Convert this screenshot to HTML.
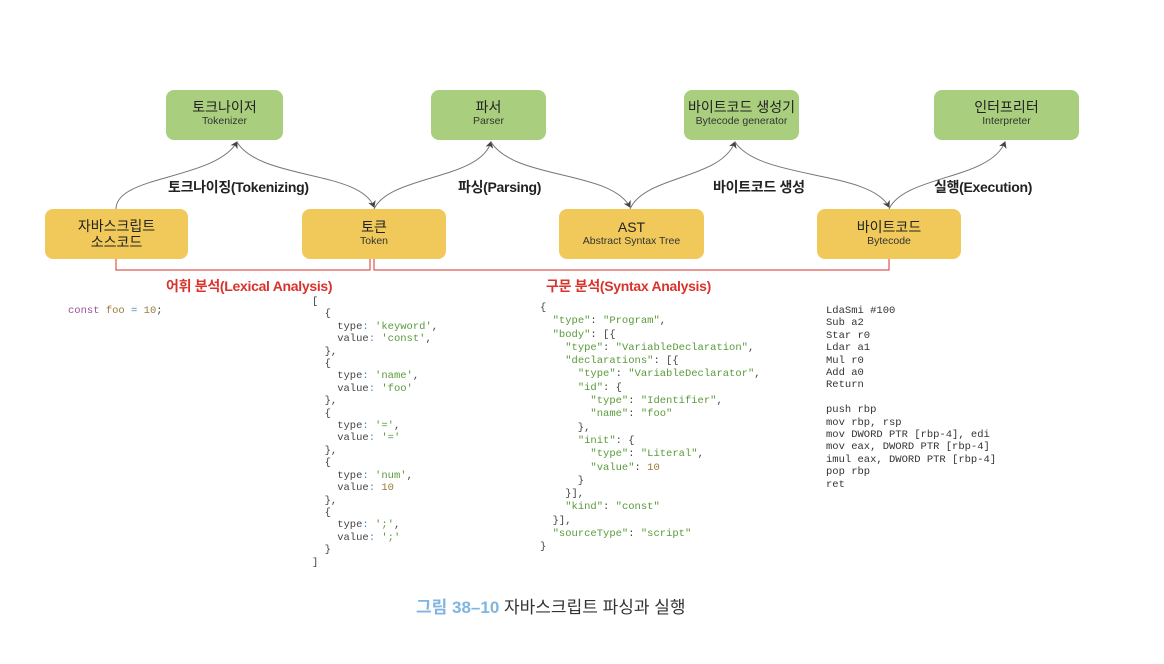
<!DOCTYPE html>
<html><head><meta charset="utf-8"><style>
body{margin:0;width:1164px;height:664px;background:#fff;position:relative;overflow:hidden;font-family:"Liberation Sans","Noto Sans CJK KR",sans-serif}
.b{position:absolute;border-radius:8px;text-align:center;color:#222;box-sizing:border-box}
.g{background:#a9cf7e}.y{background:#f0c95a}
.b .t{font-size:14px;line-height:16px}.b .s{font-size:10.5px;line-height:13px;color:#333}
.lbl{position:absolute;font-size:14px;font-weight:bold;color:#222;white-space:nowrap;letter-spacing:-0.3px}
.red{color:#d9332b;font-weight:bold}
pre{position:absolute;margin:0;font-family:"Liberation Mono",monospace;font-size:10.5px;line-height:13.2px;color:#444}
.s1{color:#5a9a3a}.k{color:#9a4f9a}.n{color:#9a7a3a}.p{color:#4a8ac0}
</style></head><body>
<svg width="1164" height="664" style="position:absolute;left:0;top:0">
<defs><marker id="a" markerWidth="10" markerHeight="10" refX="6" refY="5" orient="auto" markerUnits="userSpaceOnUse"><path d="M0,1 L7,5 L0,9 L2,5Z" fill="#444"/></marker></defs>
<g fill="none" stroke="#777" stroke-width="1">
<path d="M116,209 C116,175 215,180 237,142" marker-end="url(#a)"/>
<path d="M237,142 C260,180 360,170 374,207" marker-end="url(#a)"/>
<path d="M374,209 C390,175 480,180 491,142" marker-end="url(#a)"/>
<path d="M491,142 C515,180 610,170 630,207" marker-end="url(#a)"/>
<path d="M630,209 C645,175 720,180 735,142" marker-end="url(#a)"/>
<path d="M735,142 C760,180 870,170 889,207" marker-end="url(#a)"/>
<path d="M889,209 C905,175 990,180 1005,142" marker-end="url(#a)"/>
</g>
<g fill="none" stroke="#d9332b" stroke-width="1">
<path d="M116,259 V270 H370 V259"/>
<path d="M374,259 V270 H889 V259"/>
</g>
</svg>
<div class="b g" style="left:166px;top:90px;width:117px;height:50px;padding-top:9px"><div class="t">토크나이저</div><div class="s">Tokenizer</div></div>
<div class="b g" style="left:431px;top:90px;width:115px;height:50px;padding-top:9px"><div class="t">파서</div><div class="s">Parser</div></div>
<div class="b g" style="left:684px;top:90px;width:115px;height:50px;padding-top:9px"><div class="t">바이트코드 생성기</div><div class="s">Bytecode generator</div></div>
<div class="b g" style="left:934px;top:90px;width:145px;height:50px;padding-top:9px"><div class="t">인터프리터</div><div class="s">Interpreter</div></div>
<div class="b y" style="left:45px;top:209px;width:143px;height:50px;padding-top:9px"><div class="t">자바스크립트<br>소스코드</div></div>
<div class="b y" style="left:302px;top:209px;width:144px;height:50px;padding-top:10px"><div class="t">토큰</div><div class="s">Token</div></div>
<div class="b y" style="left:559px;top:209px;width:145px;height:50px;padding-top:10px"><div class="t">AST</div><div class="s">Abstract Syntax Tree</div></div>
<div class="b y" style="left:817px;top:209px;width:144px;height:50px;padding-top:10px"><div class="t">바이트코드</div><div class="s">Bytecode</div></div>
<div class="lbl" style="left:168px;top:177px">토크나이징(Tokenizing)</div>
<div class="lbl" style="left:458px;top:177px">파싱(Parsing)</div>
<div class="lbl" style="left:713px;top:177px">바이트코드 생성</div>
<div class="lbl" style="left:934px;top:177px">실행(Execution)</div>
<div class="lbl red" style="left:166px;top:276px">어휘 분석(Lexical Analysis)</div>
<div class="lbl red" style="left:546px;top:276px">구문 분석(Syntax Analysis)</div>
<pre style="left:68px;top:305px"><span class="k">const</span> <span class="n">foo</span> <span class="p">=</span> <span class="n">10</span>;</pre>
<pre style="left:312px;top:296px;line-height:12.4px">[
  {
    type<span class="p">:</span> <span class="s1">'keyword'</span>,
    value<span class="p">:</span> <span class="s1">'const'</span>,
  },
  {
    type<span class="p">:</span> <span class="s1">'name'</span>,
    value<span class="p">:</span> <span class="s1">'foo'</span>
  },
  {
    type<span class="p">:</span> <span class="s1">'='</span>,
    value<span class="p">:</span> <span class="s1">'='</span>
  },
  {
    type<span class="p">:</span> <span class="s1">'num'</span>,
    value<span class="p">:</span> <span class="n">10</span>
  },
  {
    type<span class="p">:</span> <span class="s1">';'</span>,
    value<span class="p">:</span> <span class="s1">';'</span>
  }
]</pre>
<pre style="left:540px;top:302px;line-height:13.3px">{
  <span class="s1">"type"</span>: <span class="s1">"Program"</span>,
  <span class="s1">"body"</span>: [{
    <span class="s1">"type"</span>: <span class="s1">"VariableDeclaration"</span>,
    <span class="s1">"declarations"</span>: [{
      <span class="s1">"type"</span>: <span class="s1">"VariableDeclarator"</span>,
      <span class="s1">"id"</span>: {
        <span class="s1">"type"</span>: <span class="s1">"Identifier"</span>,
        <span class="s1">"name"</span>: <span class="s1">"foo"</span>
      },
      <span class="s1">"init"</span>: {
        <span class="s1">"type"</span>: <span class="s1">"Literal"</span>,
        <span class="s1">"value"</span>: <span class="n">10</span>
      }
    }],
    <span class="s1">"kind"</span>: <span class="s1">"const"</span>
  }],
  <span class="s1">"sourceType"</span>: <span class="s1">"script"</span>
}</pre>
<pre style="left:826px;top:305px;color:#333;line-height:12.4px">LdaSmi #100
Sub a2
Star r0
Ldar a1
Mul r0
Add a0
Return

push rbp
mov rbp, rsp
mov DWORD PTR [rbp-4], edi
mov eax, DWORD PTR [rbp-4]
imul eax, DWORD PTR [rbp-4]
pop rbp
ret</pre>
<div style="position:absolute;left:416px;top:593px;font-size:17px;color:#333;white-space:nowrap"><span style="color:#7fb5e0;font-weight:bold">그림 38–10</span> 자바스크립트 파싱과 실행</div>
</body></html>
